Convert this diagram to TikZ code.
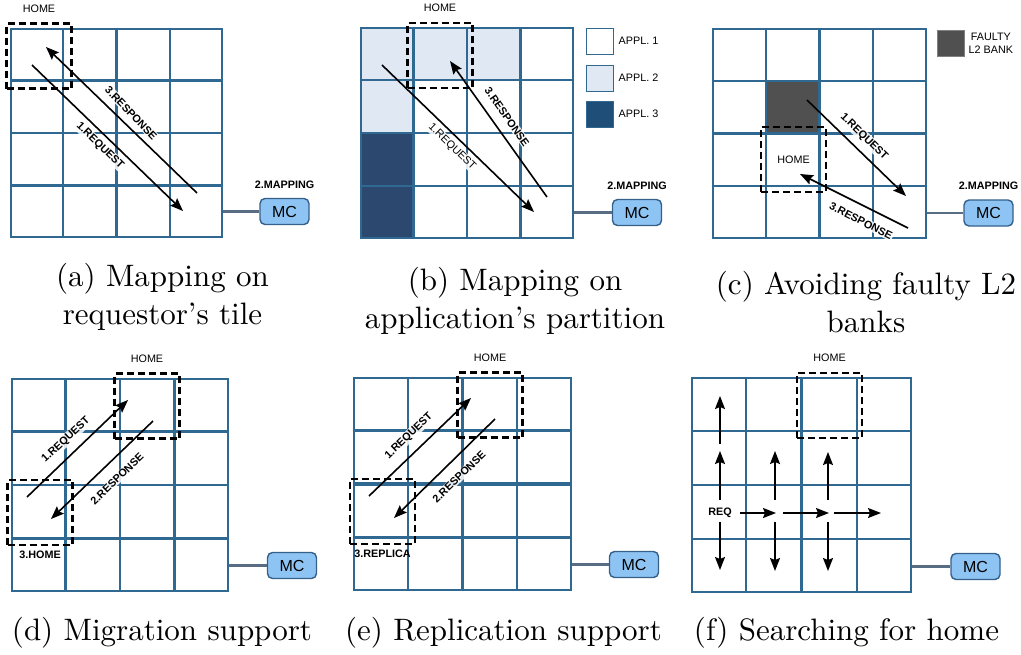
\documentclass[tikz,border=0pt]{standalone}
\usepackage{fontspec}
\setsansfont{Liberation Sans}
\usepackage{xcolor}
\usetikzlibrary{positioning, calc, arrows.meta}
\definecolor{tileblue}{RGB}{47,104,145}
\definecolor{mcfill}{RGB}{142,196,243}
\definecolor{mcedge}{RGB}{52,96,138}
\definecolor{wiregray}{RGB}{88,108,132}
\definecolor{applpale}{RGB}{223,232,243}
\definecolor{appldeep}{RGB}{44,72,110}
\definecolor{applkey}{RGB}{31,78,121}
\definecolor{faulty}{RGB}{80,80,80}
\newcommand{\tilefont}{\fontsize{10.8}{13}\selectfont\sffamily}
\tikzset{
    tiles/.style={draw=tileblue, line width=2.1pt, inner sep=0pt}, % frame of the 4x4 tiles
    tileline/.style={tileblue, line width=2.1pt},
    homebox/.style={draw, line width=2.2pt, dash pattern=on 7pt off 4pt, minimum size=65pt, inner sep=0pt, font=\tilefont},
    mc/.style={draw=mcedge, fill=mcfill, rounded corners=5pt, line width=1.4pt, minimum width=49pt, minimum height=26pt, inner sep=0pt, font=\fontsize{16}{18}\selectfont\sffamily},
    wire/.style={wiregray, line width=2.4pt},
    flow/.style={-{Stealth[length=13pt, width=10pt, inset=2pt]}, line width=1.6pt}, % request / response
    tag/.style={inner sep=0pt, font=\tilefont},
    btag/.style={inner sep=0pt, font=\tilefont\bfseries},
    onwire/.style={btag, inner sep=1pt, fill=white, fill opacity=0.85, text opacity=1},
    swatch/.style={draw=tileblue, line width=1pt, minimum width=27pt, minimum height=26pt, inner sep=0pt},
    subcap/.style={scale=3.1, align=center, anchor=base, font=\rmfamily},
}

\begin{document}
\begin{tikzpicture}[x=1pt, y=-1pt]
    \useasboundingbox (0,0) rectangle (1021,654);

    % partitions and faulty bank
    \fill[applpale] (361,28) rectangle (520,80.5);
    \fill[applpale] (361,80.5) rectangle (414,133);
    \fill[appldeep] (361,133) rectangle (414,238);
    \fill[faulty] (766.25,81.25) rectangle (819.5,133.5);

    % the six meshes
    \foreach \g/\cx/\cy/\w/\h in {a/116.5/133/211/208, b/467/133/212/210, c/819.5/133.5/213/209,
                                  d/120/485/216/212, e/462.5/484/217/212, f/801.5/485/219/214}
    {
        \node[tiles, minimum width=\w pt, minimum height=\h pt] (g\g) at (\cx,\cy) {};
        \foreach \i in {1,2,3} {
            \draw[tileline] ($(g\g.north west)!\i/4!(g\g.north east)$) -- ($(g\g.south west)!\i/4!(g\g.south east)$);
            \draw[tileline] ($(g\g.north west)!\i/4!(g\g.south west)$) -- ($(g\g.north east)!\i/4!(g\g.south east)$);
        }
    }
    \draw[tileline, line width=3.6pt] (ge.north) -- (ge.south) (ge.west) -- (ge.east);

    % memory controllers
    \foreach \g/\x/\y in {a/284.5/211.5, b/637/212.5, c/988.5/213, d/292/565.5, e/634/564.5, f/975.5/566.5}
    {
        \node[mc] (mc\g) at (\x,\y) {MC};
        \draw[wire] (mc\g.west) -- (mc\g.west -| g\g.east);
    }
    \foreach \g in {a,b,c}
        \node[btag, above=9pt of mc\g] (map\g) {2.MAPPING};

    % home tiles
    \node[homebox] (homea) at (39,56) {};
    \node[homebox] (homeb) at (440,55.5) {};
    \node[homebox] (homec) at (793.5,159.5) {HOME};
    \node[homebox] (homed) at (147,406) {};
    \node[homebox] (homee) at (490,405) {};
    \node[homebox] (homef) at (829.5,405.5) {};
    \node[homebox] (moved) at (40,512.5) {};
    \node[homebox] (copye) at (382.5,511.5) {};
    \foreach \g in {a,b,d,e,f}
        \node[tag, above=10pt of home\g] (hlab\g) {HOME};
    \node[btag, below=5pt of moved] (mlab) {3.HOME};
    \node[btag, below=5pt of copye] (clab) {3.REPLICA};

    % legends
    \node[swatch, fill=white] (k1) at (599.5,41) {};
    \node[swatch, fill=applpale] (k2) at (599.5,78) {};
    \node[swatch, fill=applkey] (k3) at (599.5,114) {};
    \foreach \k in {1,2,3}
        \node[tag, right=5pt of k\k] (kt\k) {APPL. \k};
    \node[swatch, draw=gray, fill=faulty] (kf) at (950.5,43) {};
    \node[tag, align=center, right=4pt of kf] (ktf) {FAULTY\\L2 BANK};

    % message labels
    \node[onwire, rotate=-46] (lra) at (131,113) {3.RESPONSE};
    \node[onwire, rotate=-44] (lqa) at (100,146) {1.REQUEST};
    \node[onwire, font=\tilefont, rotate=-44] (lqb) at (452,147) {1.REQUEST};
    \node[onwire, rotate=-55] (lrb) at (507,117) {3.RESPONSE};
    \node[onwire, rotate=-44] (lqc) at (864,137) {1.REQUEST};
    \node[onwire, rotate=-27] (lrc) at (861,221) {3.RESPONSE};
    \node[onwire, rotate=43] (lqd) at (66,440) {1.REQUEST};
    \node[onwire, rotate=44] (lrd) at (117,479) {2.RESPONSE};
    \node[onwire, rotate=44] (lqe) at (409,436) {1.REQUEST};
    \node[onwire, rotate=44] (lre) at (459,477) {2.RESPONSE};
    \node[btag] (req) at (720,513) {REQ};

    % messages
    \foreach \k/\xa/\ya/\xb/\yb in {qa/32/65/183/211, ra/197/193/46/47, qb/382/65/534/212, rb/547/197/450/61,
            qc/807/100/906/196, rc/908/228/800/174, qd/27/497/128/400, rd/153/421/51/519,
            qe/369/496/471/398, re/495/419/394/518,
            f1/720/500/720/451, f2/720/444/720/396, f3/720/522/720/570, f4/740/513/776/513,
            f5/783/513/829/513, f6/834/513/881/513, f7/775/500/775/451, f8/775/522/775/571,
            f9/828/500/828/452, f10/828/522/828/571}
    {
        \coordinate (s\k) at (\xa,\ya);
        \coordinate (t\k) at (\xb,\yb);
        \draw[flow] (s\k) -- (t\k);
    }

    % captions (base = last line)
    \node[subcap] (capa) at (162.5,324) {(a) Mapping on\\requestor's tile};
    \node[subcap] (capb) at (515,328) {(b) Mapping on\\application's partition};
    \node[subcap] (capc) at (866,332) {(c) Avoiding faulty L2\\banks};
    \node[subcap] (capd) at (162,640) {(d) Migration support};
    \node[subcap] (cape) at (503.5,640) {(e) Replication support};
    \node[subcap] (capf) at (846.5,640) {(f) Searching for home};
\end{tikzpicture}
\end{document}
